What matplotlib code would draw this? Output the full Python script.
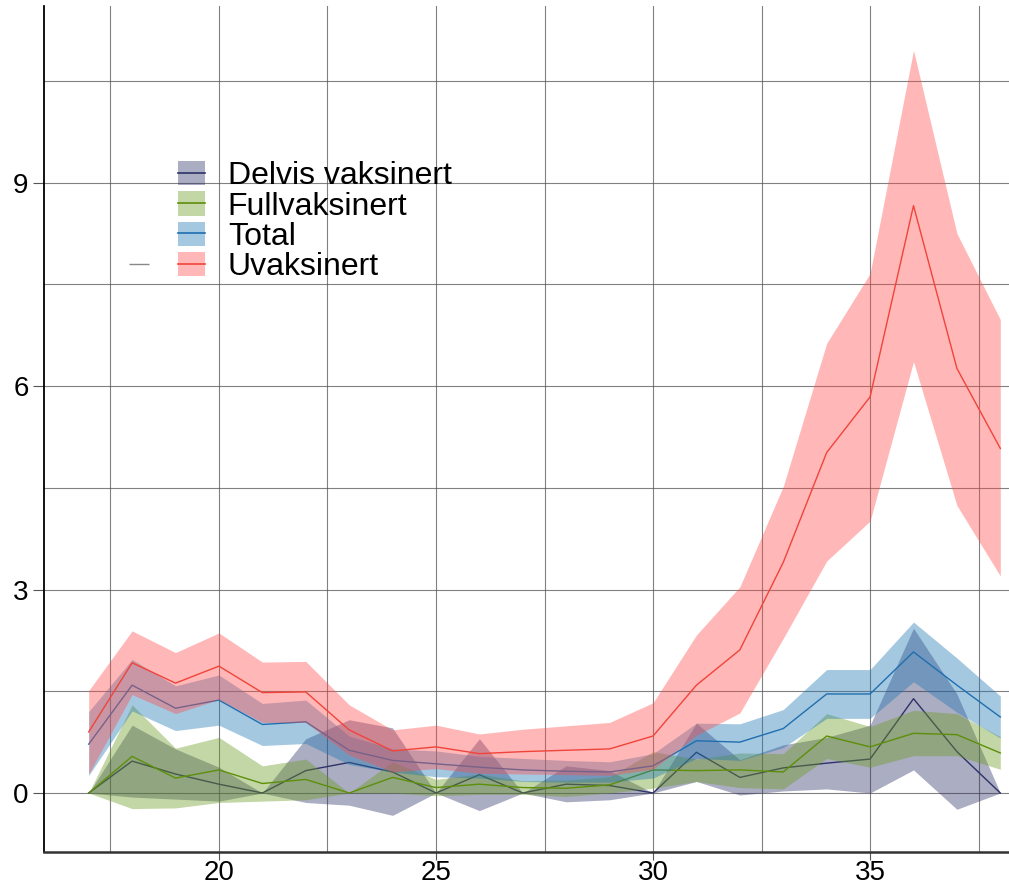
import matplotlib
matplotlib.use("Agg")
import matplotlib.pyplot as plt
from matplotlib.lines import Line2D
from matplotlib.patches import Patch
from matplotlib.ticker import MultipleLocator

plt.rcParams['font.family'] = ['Liberation Sans', 'DejaVu Sans']

# Weeks
weeks = list(range(17, 39))

# Delvis vaksinert
delvis = [0, 0.47, 0.28, 0.13, 0, 0.33, 0.45, 0.31, 0, 0.27, 0, 0.13, 0.11, 0,
          0.60, 0.23, 0.37, 0.44, 0.50, 1.39, 0.61, 0]
delvis_lo = [0, -0.06, -0.09, -0.12, 0, -0.14, -0.18, -0.33, 0, -0.26, 0, -0.13, -0.10, 0,
             0.17, -0.03, 0.03, 0.06, 0.0, 0.34, -0.24, 0]
delvis_hi = [0, 1.0, 0.65, 0.38, 0, 0.80, 1.08, 0.96, 0, 0.80, 0, 0.40, 0.33, 0,
             1.03, 0.49, 0.71, 0.82, 1.0, 2.43, 1.46, 0]

# Fullvaksinert
full = [0, 0.54, 0.22, 0.34, 0.14, 0.20, 0, 0.23, 0.08, 0.13, 0.08, 0.07, 0.12, 0.34,
        0.33, 0.34, 0.31, 0.84, 0.68, 0.88, 0.86, 0.59]
full_lo = [0, -0.23, -0.22, -0.14, -0.12, -0.10, 0, 0.0, -0.04, -0.02, -0.02, -0.05, 0.0, 0.07,
           0.17, 0.08, 0.06, 0.51, 0.38, 0.55, 0.55, 0.35]
full_hi = [0, 1.30, 0.66, 0.82, 0.40, 0.50, 0, 0.46, 0.20, 0.28, 0.18, 0.19, 0.24, 0.61,
           0.50, 0.59, 0.58, 1.17, 0.98, 1.22, 1.17, 0.83]

# Total
total = [0.72, 1.59, 1.25, 1.37, 1.01, 1.05, 0.63, 0.48, 0.43, 0.38, 0.34, 0.32, 0.31, 0.40,
         0.77, 0.75, 0.95, 1.46, 1.46, 2.08, 1.59, 1.12]
total_lo = [0.26, 1.21, 0.92, 1.00, 0.70, 0.73, 0.42, 0.31, 0.24, 0.22, 0.17, 0.16, 0.16, 0.22,
            0.51, 0.48, 0.67, 1.10, 1.10, 1.64, 1.19, 0.81]
total_hi = [1.20, 1.97, 1.58, 1.74, 1.32, 1.37, 0.84, 0.65, 0.62, 0.54, 0.51, 0.48, 0.46, 0.58,
            1.03, 1.02, 1.23, 1.82, 1.82, 2.52, 1.99, 1.43]

# Uvaksinert
uvak = [0.90, 1.92, 1.62, 1.87, 1.48, 1.49, 0.93, 0.62, 0.68, 0.58, 0.61, 0.63, 0.65, 0.84,
        1.59, 2.11, 3.40, 5.02, 5.84, 8.66, 6.26, 5.08]
uvak_lo = [0.28, 1.45, 1.17, 1.38, 1.04, 1.04, 0.56, 0.31, 0.36, 0.29, 0.28, 0.27, 0.26, 0.35,
           0.85, 1.18, 2.28, 3.42, 4.01, 6.36, 4.24, 3.20]
uvak_hi = [1.51, 2.39, 2.07, 2.36, 1.93, 1.94, 1.30, 0.93, 1.00, 0.87, 0.94, 0.99, 1.04, 1.33,
           2.33, 3.04, 4.52, 6.63, 7.66, 10.95, 8.25, 6.98]

series = [
    ('Delvis vaksinert', delvis, delvis_lo, delvis_hi, '#2e3267', '#2e3267'),
    ('Fullvaksinert', full, full_lo, full_hi, '#5e8f0a', '#6b9a1f'),
    ('Total', total, total_lo, total_hi, '#1f6fb0', '#1f77b4'),
    ('Uvaksinert', uvak, uvak_lo, uvak_hi, '#f0443a', '#ff4d4d'),
]

fig = plt.figure(figsize=(10.09, 8.90), dpi=100)
ax = fig.add_axes([0.0436, 0.0427, 0.9564, 0.9503])

handles = []
labels = []
z = 2
for name, val, lo, hi, lc, fc in series:
    ax.fill_between(weeks, lo, hi, color=fc, alpha=0.4, linewidth=0, zorder=z)
    ax.plot(weeks, val, color=lc, linewidth=1.0, zorder=z + 1)
    z += 2
    handles.append((Patch(facecolor=fc, alpha=0.4, edgecolor='none'),
                    Line2D([], [], color=lc, linewidth=1.2)))
    labels.append(name)

ax.set_xlim(15.97, 38.2)
ax.set_ylim(-0.87, 11.6)

ax.xaxis.set_major_locator(MultipleLocator(5))
ax.xaxis.set_minor_locator(MultipleLocator(2.5))
ax.yaxis.set_major_locator(MultipleLocator(3))
ax.yaxis.set_minor_locator(MultipleLocator(1.5))

ax.grid(which='both', color='#555555', linewidth=0.8, alpha=0.75, zorder=0)
ax.set_axisbelow(True)

for s in ['top', 'right']:
    ax.spines[s].set_visible(False)
ax.spines['left'].set_color('black')
ax.spines['left'].set_linewidth(1.3)
ax.spines['bottom'].set_color('#333333')
ax.spines['bottom'].set_linewidth(1.8)

ax.tick_params(axis='both', which='major', labelsize=20, color='#555555', width=0.8)
ax.tick_params(axis='x', which='major', length=6, pad=0)
ax.tick_params(axis='y', which='major', length=8, pad=3)
ax.tick_params(axis='both', which='minor', length=0)

# legend: blank first column with a lone grey dash on the last row
blank = Line2D([], [], linestyle='none')
dash = Line2D([], [], color='#888888', linestyle='none', marker='_', markersize=14,
              markeredgewidth=1.0)
leg_handles = [blank, blank, blank, dash] + handles
leg_labels = ['', '', '', ''] + labels
leg = ax.legend(leg_handles, leg_labels, ncol=2, loc='upper left',
                bbox_to_anchor=(0.068, 0.836), frameon=False, fontsize=23,
                handlelength=0.85, handleheight=0.8, labelspacing=0.0,
                handletextpad=0.7, columnspacing=0.1, borderpad=0)

fig.savefig('out.png', dpi=100)
